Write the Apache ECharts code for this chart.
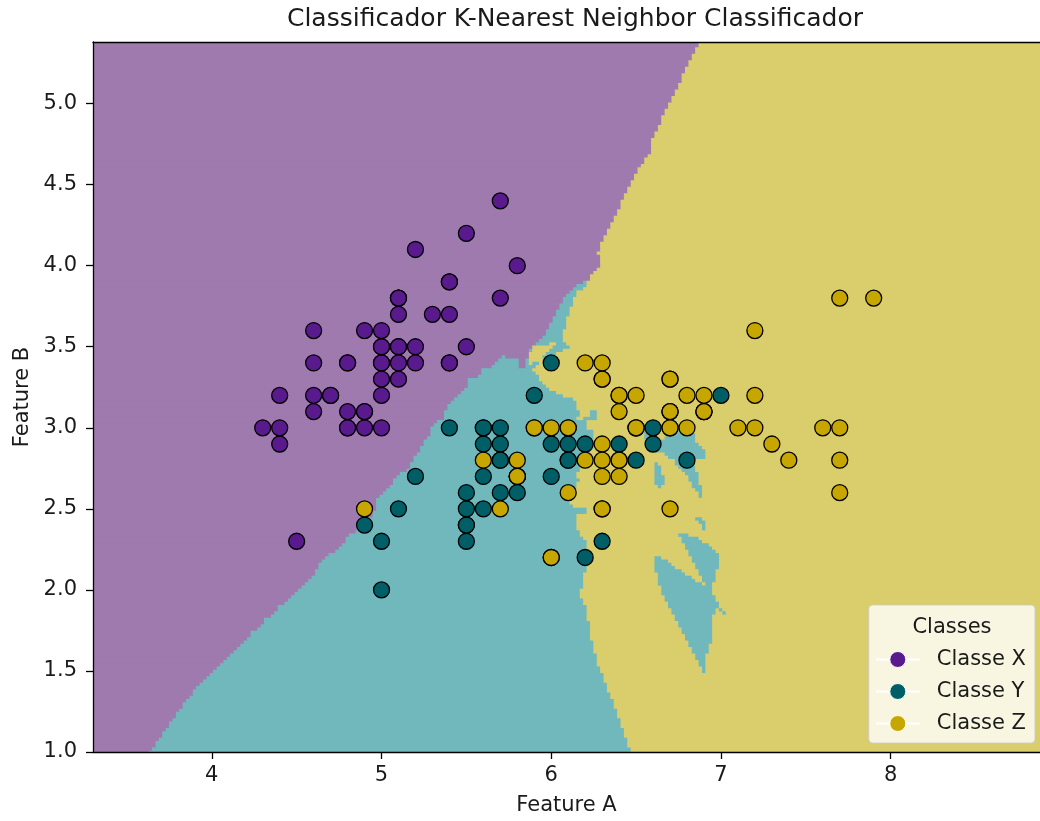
<!DOCTYPE html>
<html><head><meta charset="utf-8">
<script src="https://cdn.jsdelivr.net/npm/echarts@6/dist/echarts.min.js"></script>
<style>html,body{margin:0;padding:0;background:#fff}#chart{width:1040px;height:821px}</style>
</head><body><div id="chart"></div>
<script>
// ---------------- data ----------------
const classNames = ['Classe X', 'Classe Y', 'Classe Z'];
const classX = [[5.1,3.5],[4.9,3.0],[4.7,3.2],[4.6,3.1],[5.0,3.6],[5.4,3.9],[4.6,3.4],[5.0,3.4],[4.4,2.9],[4.9,3.1],
 [5.4,3.7],[4.8,3.4],[4.8,3.0],[4.3,3.0],[5.8,4.0],[5.7,4.4],[5.4,3.9],[5.1,3.5],[5.7,3.8],[5.1,3.8],
 [5.4,3.4],[5.1,3.7],[4.6,3.6],[5.1,3.3],[4.8,3.4],[5.0,3.0],[5.0,3.4],[5.2,3.5],[5.2,3.4],[4.7,3.2],
 [4.8,3.1],[5.4,3.4],[5.2,4.1],[5.5,4.2],[4.9,3.1],[5.0,3.2],[5.5,3.5],[4.9,3.6],[4.4,3.0],[5.1,3.4],
 [5.0,3.5],[4.5,2.3],[4.4,3.2],[5.0,3.5],[5.1,3.8],[4.8,3.0],[5.1,3.8],[4.6,3.2],[5.3,3.7],[5.0,3.3]];
const classY = [[7.0,3.2],[6.4,3.2],[6.9,3.1],[5.5,2.3],[6.5,2.8],[5.7,2.8],[6.3,3.3],[4.9,2.4],[6.6,2.9],[5.2,2.7],
 [5.0,2.0],[5.9,3.0],[6.0,2.2],[6.1,2.9],[5.6,2.9],[6.7,3.1],[5.6,3.0],[5.8,2.7],[6.2,2.2],[5.6,2.5],
 [5.9,3.2],[6.1,2.8],[6.3,2.5],[6.1,2.8],[6.4,2.9],[6.6,3.0],[6.8,2.8],[6.7,3.0],[6.0,2.9],[5.7,2.6],
 [5.5,2.4],[5.5,2.4],[5.8,2.7],[6.0,2.7],[5.4,3.0],[6.0,3.4],[6.7,3.1],[6.3,2.3],[5.6,3.0],[5.5,2.5],
 [5.5,2.6],[6.1,3.0],[5.8,2.6],[5.0,2.3],[5.6,2.7],[5.7,3.0],[5.7,2.9],[6.2,2.9],[5.1,2.5],[5.7,2.8]];
const classZ = [[6.3,3.3],[5.8,2.7],[7.1,3.0],[6.3,2.9],[6.5,3.0],[7.6,3.0],[4.9,2.5],[7.3,2.9],[6.7,2.5],[7.2,3.6],
 [6.5,3.2],[6.4,2.7],[6.8,3.0],[5.7,2.5],[5.8,2.8],[6.4,3.2],[6.5,3.0],[7.7,3.8],[7.7,2.6],[6.0,2.2],
 [6.9,3.2],[5.6,2.8],[7.7,2.8],[6.3,2.7],[6.7,3.3],[7.2,3.2],[6.2,2.8],[6.1,3.0],[6.4,2.8],[7.2,3.0],
 [7.4,2.8],[7.9,3.8],[6.4,2.8],[6.3,2.8],[6.1,2.6],[7.7,3.0],[6.3,3.4],[6.4,3.1],[6.0,3.0],[6.9,3.1],
 [6.7,3.1],[6.9,3.1],[5.8,2.7],[6.8,3.2],[6.7,3.3],[6.7,3.0],[6.3,2.5],[6.5,3.0],[6.2,3.4],[5.9,3.0]];
const xTicks = [4, 5, 6, 7, 8];
const yTicks = [1.0, 1.5, 2.0, 2.5, 3.0, 3.5, 4.0, 4.5, 5.0];

// ---------------- settings ----------------
const K = 11;
const STEP = 0.02;
const X_MIN = 3.3, X_MAX = 8.88, Y_MIN = 1.0, Y_MAX = 5.38;
const markerColors = ['#581a8c', '#005f66', '#c8a600'];
const bgColors = ['#9f7aae', '#70b8bc', '#d9cd6c'];
const FONT = 'DejaVu Sans';
const TXT = '#1a1a1a';

// ---------------- KNN decision regions (computed from the data) ----------------
const train = [];
[classX, classY, classZ].forEach((arr, c) => arr.forEach(p => train.push([p[0], p[1], c])));
const nx = Math.round((X_MAX - X_MIN) / STEP) + 1;
const ny = Math.round((Y_MAX - Y_MIN) / STEP) + 1;
const runs = [];
const kd = new Float64Array(K), kc = new Int32Array(K);
for (let j = 0; j < ny; j++) {
  const y = Y_MIN + j * STEP;
  let prev = -1, start = 0;
  for (let i = 0; i < nx; i++) {
    const x = X_MIN + i * STEP;
    let n = 0;
    for (let t = 0; t < train.length; t++) {
      const dx = x - train[t][0], dy = y - train[t][1];
      const d = dx * dx + dy * dy;
      let pos;
      if (n < K) { pos = n; n++; }
      else if (d < kd[K - 1]) { pos = K - 1; }
      else continue;
      while (pos > 0 && kd[pos - 1] > d) { kd[pos] = kd[pos - 1]; kc[pos] = kc[pos - 1]; pos--; }
      kd[pos] = d; kc[pos] = train[t][2];
    }
    const cnt = [0, 0, 0];
    for (let q = 0; q < K; q++) cnt[kc[q]]++;
    let cls = 0;
    for (let c = 1; c < 3; c++) if (cnt[c] > cnt[cls]) cls = c;
    if (cls !== prev) {
      if (prev >= 0) runs.push([X_MIN + start * STEP, X_MIN + (i - 1) * STEP, y, prev]);
      prev = cls; start = i;
    }
  }
  runs.push([X_MIN + start * STEP, X_MIN + (nx - 1) * STEP, y, prev]);
}

// ---------------- chart ----------------
const chart = echarts.init(document.getElementById('chart'), null, { renderer: 'canvas' });
const axisLineStyle = { color: '#000', width: 1.3 };
const pointSeries = [classX, classY, classZ].map((arr, c) => ({
  type: 'line', name: classNames[c], data: arr, xAxisIndex: 0, yAxisIndex: 0,
  symbol: 'circle', symbolSize: 16, showSymbol: true, showAllSymbol: true,
  lineStyle: { width: 0, opacity: 0 },
  itemStyle: { color: markerColors[c], borderColor: '#000', borderWidth: 1.3 },
  emphasis: { disabled: true }, silent: true, z: 3, animation: false
}));

chart.setOption({
  animation: false,
  backgroundColor: '#ffffff',
  title: {
    text: 'Classificador K-Nearest Neighbor Classificador',
    left: 570, top: 2, textAlign: 'center',
    textStyle: { fontFamily: FONT, fontSize: 25, fontWeight: 'normal', color: TXT }
  },
  grid: { left: 93, right: -8, top: 42, bottom: 68, containLabel: false },
  xAxis: [{
    type: 'value', min: X_MIN, max: X_MAX, position: 'bottom', z: 5,
    axisLine: { show: true, onZero: false, lineStyle: axisLineStyle },
    axisTick: { show: true, customValues: xTicks, length: 7, lineStyle: axisLineStyle },
    axisLabel: { customValues: xTicks, margin: 13, fontFamily: FONT, fontSize: 21, color: TXT },
    splitLine: { show: false },
    name: 'Feature A', nameLocation: 'middle', nameGap: 43,
    nameTextStyle: { fontFamily: FONT, fontSize: 21, color: TXT }
  }, {
    type: 'value', min: X_MIN, max: X_MAX, position: 'top', z: 5,
    axisLine: { show: true, onZero: false, lineStyle: axisLineStyle },
    axisTick: { show: false }, axisLabel: { show: false }, splitLine: { show: false }
  }],
  yAxis: {
    type: 'value', min: Y_MIN, max: Y_MAX, z: 5,
    axisLine: { show: true, onZero: false, lineStyle: axisLineStyle },
    axisTick: { show: true, customValues: yTicks, length: 7, lineStyle: axisLineStyle },
    axisLabel: { customValues: yTicks, margin: 16, fontFamily: FONT, fontSize: 21, color: TXT,
      formatter: v => Number(v).toFixed(1) },
    splitLine: { show: false },
    name: 'Feature B', nameLocation: 'middle', nameGap: 60, nameRotate: 90,
    nameTextStyle: { fontFamily: FONT, fontSize: 21, color: TXT }
  },
  legend: {
    orient: 'vertical', right: 5, bottom: 78, data: classNames,
    itemWidth: 44, itemHeight: 20, itemGap: 11,
    padding: [44, 9, 9, 6],
    backgroundColor: 'rgba(255,255,255,0.8)', borderColor: 'rgba(204,204,204,0.8)', borderWidth: 1, borderRadius: 4,
    textStyle: { fontFamily: FONT, fontSize: 21, color: TXT, padding: [0, 0, 0, 12] },
    lineStyle: { color: '#ffffff', width: 2, opacity: 1 },
    itemStyle: { borderColor: '#ffffff', borderWidth: 1 },
    selectedMode: false, z: 10
  },
  graphic: [{
    type: 'text', x: 952, y: 628, z: 100,
    style: { text: 'Classes', fontFamily: FONT, fontSize: 21, fill: TXT, align: 'center', verticalAlign: 'middle' }
  }],
  series: [{
    type: 'custom', name: 'regions', data: runs, silent: true, clip: true, z: 1,
    dimensions: ['x0', 'x1', 'y', 'cls'],
    encode: { x: [0, 1], y: 2 },
    renderItem: (params, api) => {
      const x0 = api.value(0), x1 = api.value(1), y = api.value(2), c = api.value(3);
      const p0 = api.coord([x0 - STEP / 2, y + STEP / 2]);
      const p1 = api.coord([x1 + STEP / 2, y - STEP / 2]);
      return {
        type: 'rect',
        shape: { x: p0[0] - 0.3, y: p0[1] - 0.4, width: p1[0] - p0[0] + 0.6, height: p1[1] - p0[1] + 0.8 },
        style: { fill: bgColors[c] }
      };
    }
  }].concat(pointSeries)
});
</script></body></html>
